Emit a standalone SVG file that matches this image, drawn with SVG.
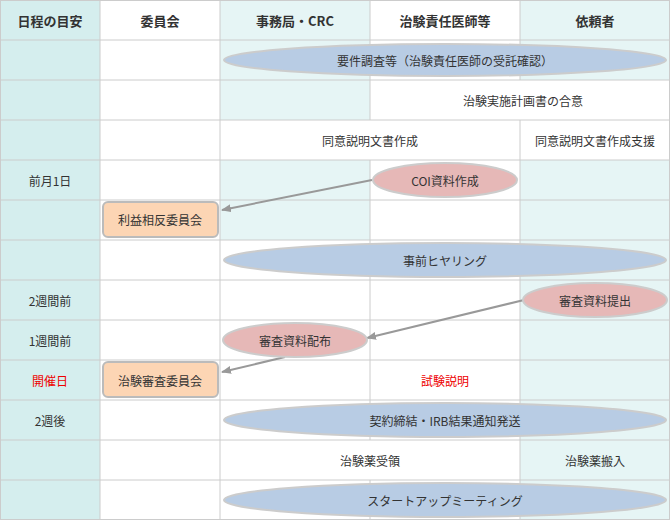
<svg xmlns="http://www.w3.org/2000/svg" width="670" height="520" viewBox="0 0 670 520">
<style>
text{font-family:"Noto Sans CJK JP","Noto Sans",sans-serif;font-size:12px;fill:#333;text-anchor:middle;dominant-baseline:central}
.h{font-weight:bold;font-size:13px}
.red{fill:#e00}
.g{stroke:#ccc;stroke-width:1}
.blue{fill:#b8cce4;stroke:#ccc;stroke-width:2}
.pink{fill:#e6b8b7;stroke:#ccc;stroke-width:2}
.box{fill:#fcd5b4;stroke:#bbb;stroke-width:2}
.c{stroke:#999;stroke-width:2;fill:none;marker-end:url(#a)}
</style>
<defs><marker id="a" markerWidth="10" markerHeight="8" refX="9" refY="4" orient="auto" markerUnits="userSpaceOnUse"><path d="M0,0L10,4L0,8z" fill="#999"/></marker></defs>
<g id="grid">
<rect width="670" height="520" fill="#fff"/>
<rect x="0" y="0" width="100" height="520" fill="#d5eeee"/>
<g fill="#e6f5f5">
<rect x="220" y="0" width="150" height="120"/>
<rect x="220" y="160" width="150" height="80"/>
<rect x="520" y="0" width="150" height="80"/>
<rect x="520" y="160" width="150" height="320"/>
<rect x="520" y="440" width="150" height="80"/>
</g>
<g class="g">
<path d="M0,0.5H670M0,40H670M0,80H670M0,120H670M0,160H670M0,200H670M0,240H670M0,280H670M0,320H670M0,360H670M0,400H670M0,440H670M0,480H670M0,519.5H670"/>
<path d="M0.5,0V520M100,0V520M220,0V520M669.5,0V520"/>
<path d="M370,0V120M370,160V440M370,480V520"/>
<path d="M520,0V80M520,120V520"/>
</g>
</g>
<g id="headers">
<text class="h" x="50" y="20">日程の目安</text>
<text class="h" x="160" y="20">委員会</text>
<text class="h" x="295" y="20">事務局・CRC</text>
<text class="h" x="445" y="20">治験責任医師等</text>
<text class="h" x="595" y="20">依頼者</text>
</g>
<g id="dates">
<text x="50" y="180">前月1日</text>
<text x="50" y="300">2週間前</text>
<text x="50" y="340">1週間前</text>
<text class="red" x="50" y="380">開催日</text>
<text x="50" y="420">2週後</text>
</g>
<g id="connectors">
<path class="c" d="M372,180L222,210"/>
<path class="c" d="M524,300L367,338"/>
<path class="c" d="M285,357L222,372"/>
</g>
<g id="n1"><ellipse class="blue" cx="445" cy="60" rx="221" ry="16"/><text x="445" y="60">要件調査等（治験責任医師の受託確認）</text></g>
<g id="n2"><text x="523" y="100">治験実施計画書の合意</text></g>
<g id="n3"><text x="370" y="140">同意説明文書作成</text></g>
<g id="n4"><text x="595" y="140">同意説明文書作成支援</text></g>
<g id="n5"><ellipse class="pink" cx="445" cy="180" rx="72" ry="17"/><text x="445" y="180">COI資料作成</text></g>
<g id="n6"><rect class="box" x="103" y="202" width="115" height="35" rx="5"/><text x="160" y="219">利益相反委員会</text></g>
<g id="n7"><ellipse class="blue" cx="445" cy="260" rx="221" ry="17"/><text x="445" y="260">事前ヒヤリング</text></g>
<g id="n8"><ellipse class="pink" cx="595" cy="300" rx="72" ry="17"/><text x="595" y="300">審査資料提出</text></g>
<g id="n9"><ellipse class="pink" cx="295" cy="340" rx="72" ry="17"/><text x="295" y="340">審査資料配布</text></g>
<g id="n10"><rect class="box" x="103" y="362" width="115" height="35" rx="5"/><text x="160" y="380">治験審査委員会</text></g>
<g id="n11"><text class="red" x="445" y="380">試験説明</text></g>
<g id="n12"><ellipse class="blue" cx="445" cy="420" rx="221" ry="17"/><text x="445" y="420">契約締結・IRB結果通知発送</text></g>
<g id="n13"><text x="370" y="460">治験薬受領</text></g>
<g id="n14"><text x="595" y="460">治験薬搬入</text></g>
<g id="n15"><ellipse class="blue" cx="445" cy="500" rx="221" ry="17"/><text x="445" y="500">スタートアップミーティング</text></g>
</svg>
